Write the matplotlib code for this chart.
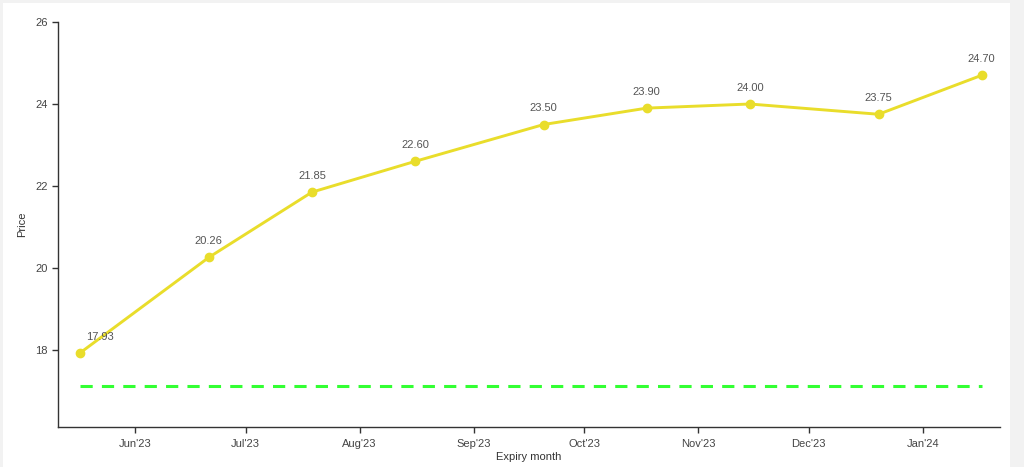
import matplotlib
matplotlib.use("Agg")
import matplotlib.pyplot as plt
import datetime as dt

plt.rcParams['font.family'] = ['Liberation Sans', 'DejaVu Sans']

expiry_dates = ["2023-05-17", "2023-06-21", "2023-07-19", "2023-08-16", "2023-09-20",
                "2023-10-18", "2023-11-15", "2023-12-20", "2024-01-17"]
prices = [17.93, 20.26, 21.85, 22.60, 23.50, 23.90, 24.00, 23.75, 24.70]
spot_level = 17.12
tick_months = ["2023-06-01", "2023-07-01", "2023-08-01", "2023-09-01", "2023-10-01",
               "2023-11-01", "2023-12-01", "2024-01-01"]
tick_labels = ["Jun'23", "Jul'23", "Aug'23", "Sep'23", "Oct'23", "Nov'23", "Dec'23", "Jan'24"]
y_ticks = [18, 20, 22, 24, 26]

x = [dt.datetime.strptime(d, "%Y-%m-%d") for d in expiry_dates]
xt = [dt.datetime.strptime(d, "%Y-%m-%d") for d in tick_months]

fig = plt.figure(figsize=(10.24, 4.67), dpi=100, facecolor="#f2f2f2")
bg = fig.add_axes([3/1024, 0.0, (1010-3)/1024, 1 - 3/467], zorder=-5)
bg.set_facecolor("white")
bg.set_xticks([]); bg.set_yticks([])
for s in bg.spines.values():
    s.set_visible(False)

ax = fig.add_axes([58/1024, 40.3/467, (1000-58)/1024, (426.7-22)/467], zorder=1)
ax.set_facecolor("none")

ax.plot(x, prices, color="#e9dd2b", lw=2.1, marker="o", ms=6, zorder=3)
ax.plot([x[0], x[-1]], [spot_level, spot_level], color="#33ff33", lw=2.2,
        ls=(0, (4, 3)), zorder=2)

for i, (xi, yi) in enumerate(zip(x, prices)):
    dx = 14 if i == 0 else 0
    ax.annotate(f"{yi:.2f}", (xi, yi), xytext=(dx, 8), textcoords="offset points",
                ha="center", va="bottom", fontsize=8, color="#555555")

ax.set_xlim(x[0] - dt.timedelta(days=6), x[-1] + dt.timedelta(days=5))
ax.set_ylim(16.13, 26)
ax.set_yticks(y_ticks)
ax.set_yticklabels([str(v) for v in y_ticks])
ax.set_xticks(xt)
ax.set_xticklabels(tick_labels)

for s in ["top", "right"]:
    ax.spines[s].set_visible(False)
for s in ["left", "bottom"]:
    ax.spines[s].set_color("#333333")
    ax.spines[s].set_linewidth(1.0)
ax.tick_params(axis="both", colors="#333333", labelcolor="#444444", labelsize=8,
               length=4, width=1, direction="out")
ax.tick_params(axis="x", pad=5)

ax.set_xlabel("Expiry month", fontsize=8, color="#333333", labelpad=2)
ax.set_ylabel("Price", fontsize=8, color="#333333", labelpad=6)

fig.savefig("out.png", dpi=100, facecolor=fig.get_facecolor())
